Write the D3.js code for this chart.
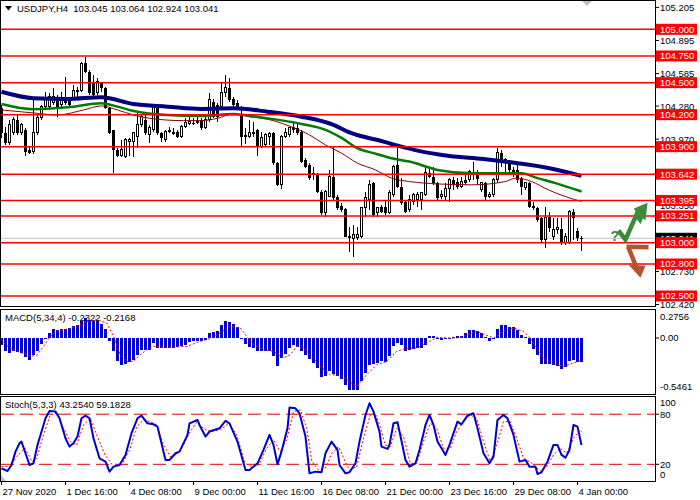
<!DOCTYPE html>
<html>
<head>
<meta charset="utf-8">
<script src="https://cdn.jsdelivr.net/npm/d3@7"></script>
<style>
  body { margin: 0; background: #fff; }
  svg { display: block; font-family: "Liberation Sans", Arial, sans-serif; }
</style>
</head>
<body>
<div id="chart"></div>
<script>
// USDJPY H4, 27 Nov 2020 00:00 .. 4 Jan 2021 04:00 (146 bars)

const openP = [104.263,104.029,103.935,104.029,104.150,104.029,104.057,103.870,103.851,104.029,
  104.169,104.272,104.272,104.310,104.366,104.291,104.338,104.338,104.356,104.413,
  104.431,104.684,104.600,104.506,104.403,104.497,104.450,104.263,104.057,103.870,
  103.813,103.804,103.944,103.944,103.991,104.103,104.150,104.010,104.057,104.272,
  104.029,103.963,104.057,104.038,104.038,103.991,104.085,104.113,104.122,104.122,
  104.150,104.075,104.150,104.319,104.291,104.272,104.403,104.450,104.347,104.310,
  104.197,104.010,103.991,104.038,104.057,103.898,103.916,103.991,104.029,103.748,
  103.542,103.991,104.010,104.085,104.075,104.038,103.776,103.729,103.654,103.636,
  103.476,103.280,103.429,103.617,103.429,103.345,103.317,103.064,103.036,103.046,
  103.055,103.327,103.401,103.560,103.280,103.336,103.336,103.280,103.448,103.729,
  103.523,103.383,103.308,103.383,103.401,103.401,103.448,103.654,103.617,103.560,
  103.429,103.429,103.504,103.589,103.570,103.523,103.589,103.589,103.664,103.654,
  103.495,103.560,103.429,103.448,103.589,103.842,103.748,103.748,103.682,103.682,
  103.607,103.514,103.560,103.345,103.327,103.233,103.027,103.242,103.055,103.120,
  103.130,103.000,103.000,103.289,103.111,103.045];
const highP = [104.291,104.085,104.150,104.178,104.197,104.122,104.075,103.898,104.366,104.197,
  104.291,104.413,104.403,104.450,104.385,104.413,104.553,104.366,104.478,104.459,
  104.693,104.740,104.619,104.572,104.544,104.506,104.459,104.272,104.057,103.888,
  103.963,103.982,103.982,104.038,104.225,104.197,104.197,104.103,104.291,104.291,
  104.038,104.057,104.085,104.075,104.057,104.103,104.169,104.178,104.169,104.178,
  104.169,104.178,104.403,104.347,104.310,104.497,104.572,104.544,104.366,104.338,
  104.282,104.075,104.150,104.132,104.066,104.038,104.029,104.038,104.038,103.757,
  104.010,104.075,104.085,104.122,104.122,104.057,103.795,103.748,103.710,103.654,
  103.495,103.495,103.682,103.898,103.448,103.373,103.327,103.149,103.167,103.149,
  103.336,103.476,103.589,103.570,103.336,103.355,103.401,103.495,103.729,103.888,
  103.607,103.401,103.448,103.467,103.476,103.476,103.710,103.710,103.710,103.570,
  103.495,103.560,103.607,103.617,103.607,103.617,103.654,103.682,103.757,103.682,
  103.570,103.570,103.476,103.607,103.888,103.870,103.795,103.776,103.710,103.748,
  103.617,103.570,103.570,103.383,103.336,103.242,103.336,103.289,103.233,103.233,
  103.233,103.092,103.308,103.317,103.139,103.064];
const lowP = [103.982,103.916,103.916,104.010,104.010,104.010,103.813,103.832,103.832,104.010,
  104.150,104.263,104.263,104.291,104.178,104.272,104.291,104.282,104.338,104.356,
  104.413,104.591,104.385,104.375,104.385,104.413,104.253,104.019,103.654,103.804,
  103.804,103.795,103.813,103.804,103.888,104.085,104.010,103.935,104.038,104.010,
  103.944,103.944,104.029,104.010,103.982,103.982,104.075,104.103,104.103,104.113,
  104.057,104.066,104.132,104.169,104.132,104.263,104.366,104.319,104.272,104.244,
  103.898,103.926,103.982,103.991,103.813,103.888,103.907,103.916,103.729,103.532,
  103.504,103.982,103.991,104.029,104.010,103.748,103.701,103.589,103.589,103.467,
  103.261,103.242,103.429,103.401,103.308,103.289,103.055,102.915,102.868,103.027,
  103.046,103.242,103.308,103.242,103.242,103.280,103.261,103.270,103.429,103.514,
  103.355,103.280,103.289,103.355,103.336,103.308,103.439,103.607,103.542,103.401,
  103.411,103.401,103.383,103.495,103.504,103.514,103.542,103.570,103.589,103.542,
  103.476,103.401,103.420,103.429,103.570,103.710,103.654,103.654,103.617,103.560,
  103.448,103.495,103.327,103.308,103.195,103.008,102.952,103.102,103.027,103.083,
  102.980,102.980,102.990,103.027,103.018,102.924];
const closeP = [104.029,103.935,104.103,104.150,104.029,104.103,103.851,103.842,104.029,104.169,
  104.272,104.338,104.366,104.366,104.263,104.338,104.310,104.291,104.431,104.431,
  104.684,104.600,104.403,104.385,104.506,104.450,104.263,104.029,103.870,103.813,
  103.870,103.963,103.963,104.029,104.103,104.178,104.029,104.075,104.272,104.029,
  103.982,104.038,104.038,104.019,103.991,104.085,104.122,104.132,104.113,104.132,
  104.075,104.150,104.338,104.178,104.178,104.403,104.450,104.338,104.291,104.272,
  103.991,103.991,104.029,104.019,103.898,103.982,104.010,104.019,103.748,103.542,
  103.991,104.029,104.075,104.057,104.029,103.757,103.710,103.607,103.636,103.476,
  103.280,103.476,103.617,103.420,103.327,103.308,103.055,103.046,103.074,103.074,
  103.327,103.420,103.542,103.261,103.327,103.289,103.280,103.467,103.710,103.523,
  103.373,103.289,103.401,103.448,103.448,103.467,103.654,103.617,103.560,103.420,
  103.448,103.504,103.589,103.542,103.523,103.570,103.560,103.664,103.636,103.598,
  103.560,103.429,103.448,103.589,103.842,103.776,103.776,103.682,103.664,103.589,
  103.523,103.560,103.336,103.327,103.214,103.027,103.233,103.139,103.120,103.139,
  103.000,103.055,103.289,103.233,103.046,103.041];
const lastPrice = 103.041;

// moving averages, [bar index] and price
const maSlowIdx = [0,8,16.5,25,33,41.5,50,58,66.5,75,83,87,95.5,100,104,112,120.5,129,137,145];
const maSlowVal = [104.415,104.354,104.347,104.363,104.300,104.275,104.253,104.260,104.228,104.181,
  104.104,104.033,103.947,103.900,103.863,103.813,103.785,103.745,103.698,103.626];
const maMidIdx = [0,8,16.5,25,29,33,41.5,50,58,62,66.5,75,81,85,89,93,97.5,102,109,117.5,126,130,134,138.5,145];
const maMidVal = [104.300,104.251,104.269,104.307,104.275,104.235,104.197,104.188,104.207,104.188,
  104.166,104.113,104.057,103.982,103.885,103.839,103.792,103.760,103.682,103.651,
  103.651,103.651,103.605,103.558,103.479];
const maFastIdx = [0,8,14,20.5,25,29,33,37,45.5,50,54,58,62,66.5,72.7,77,81,85,89,93.5,97.5,102,109,117.5,126,128.5,132.5,136.7,141,145];
const maFastVal = [104.244,104.216,104.197,104.244,104.282,104.244,104.197,104.166,104.144,104.144,
  104.166,104.207,104.181,104.157,104.082,104.010,103.916,103.839,103.745,103.682,
  103.605,103.573,103.551,103.542,103.573,103.605,103.573,103.495,103.432,103.386];

// horizontal levels and axis ticks
const levels = [105.000,104.750,104.500,104.200,103.900,103.642,103.395,103.251,103.000,102.800,102.500];
const priceTicks = [105.205,104.895,104.585,104.280,103.970,103.660,103.350,102.730,102.420];
const timeTickIdx = [0,16,32,48,64,80,96,112,128,144];
const timeTickLabels = ["27 Nov 2020","1 Dec 16:00","4 Dec 08:00","9 Dec 00:00","11 Dec 16:00",
  "16 Dec 08:00","21 Dec 00:00","23 Dec 16:00","29 Dec 08:00","4 Jan 00:00"];

// MACD(5,34,4)
const macdHist = [-0.071,-0.129,-0.145,-0.123,-0.139,-0.145,-0.187,-0.216,-0.161,-0.123,
  -0.058,-0.010,0.048,0.090,0.081,0.087,0.090,0.097,0.113,0.129,
  0.161,0.193,0.177,0.161,0.168,0.135,0.090,-0.026,-0.129,-0.219,
  -0.264,-0.248,-0.232,-0.210,-0.161,-0.113,-0.113,-0.119,-0.048,-0.097,
  -0.097,-0.097,-0.097,-0.097,-0.090,-0.081,-0.064,-0.042,-0.032,-0.026,
  -0.026,-0.016,0.048,0.055,0.071,0.123,0.161,0.155,0.135,0.103,
  -0.006,-0.055,-0.084,-0.097,-0.129,-0.129,-0.129,-0.129,-0.177,-0.274,
  -0.193,-0.152,-0.097,-0.071,-0.090,-0.129,-0.168,-0.200,-0.242,-0.290,
  -0.380,-0.371,-0.322,-0.348,-0.371,-0.393,-0.458,-0.500,-0.500,-0.500,
  -0.419,-0.339,-0.258,-0.251,-0.242,-0.226,-0.232,-0.177,-0.081,-0.048,
  -0.064,-0.129,-0.113,-0.103,-0.097,-0.097,-0.064,0.023,0.016,-0.010,
  -0.023,-0.010,-0.006,0.013,0.023,0.023,0.048,0.074,0.081,0.071,
  0.048,0.006,-0.032,-0.010,0.090,0.123,0.129,0.106,0.106,0.081,
  0.032,0.006,-0.058,-0.106,-0.168,-0.248,-0.248,-0.248,-0.264,-0.274,
  -0.300,-0.284,-0.226,-0.210,-0.235,-0.232];
const macdSigIdx = [0.5,2.2,4.7,7.2,8.8,10.5,12.2,13.8,16.3,18.8,21.3,23.8,26.3,28,29.7,31.3,33,34.7,36.3,38,
  41.3,46.3,49.7,52.2,54.7,57.2,59.7,61.3,63,65.5,68,70.5,72.2,73.8,75.5,77.2,79.7,82.2,84.7,87.2,
  88.8,91.3,93.8,96.3,98.8,101.3,103.8,106.3,108.8,111.3,113.8,116.3,118.8,121.3,123,125.5,128,130.5,
  132.2,133.8,135.5,138,140.5,143,145];
const macdSigVal = [-0.048,-0.097,-0.139,-0.177,-0.168,-0.081,0.016,0.064,0.081,0.113,0.155,0.177,0.145,0.016,-0.161,-0.226,-0.226,-0.161,-0.113,-0.081,
  -0.090,-0.081,-0.032,-0.006,0.048,0.113,0.097,0.016,-0.064,-0.113,-0.129,-0.193,-0.161,-0.081,-0.097,-0.161,-0.274,-0.355,-0.361,-0.426,
  -0.467,-0.355,-0.258,-0.226,-0.129,-0.097,-0.097,-0.048,0.006,0,0,0.026,0.064,0.026,0,0.064,0.097,0.064,
  0,-0.097,-0.193,-0.251,-0.274,-0.242,-0.217];
const macdMax = 0.2756, macdMin = -0.5461;

// Stochastic(5,3,3)
const stochMainIdx = [0,1.5,2.5,3.5,4.5,5,6,7,8,9,11,12,13.5,14.5,16,17,18,19,20,21,22,23,24.5,26,27,28,29.5,31,32.5,34,
  35,36.5,38,39,39.5,41,42,43.5,44.5,46.5,47,49,49.5,51,52,54.5,56,57,59,61,62,64,65.5,67,68,69,70,71.5,72,73.5,
  74.5,76,77,78.5,80,81,82.5,84,84.5,86,87,88.5,89.5,91,92,93,94.5,95,96.5,97,98,99,99.5,101,102,103.5,104.5,106,
  107,108,109,111,112,114,115,116.5,118,119,120.5,122,123,124,125.5,126.5,128,129.5,131,132,133.5,134,135,136.5,
  138,139,140,141,142,143,144,145];
const stochMainVal = [15.2,12.0,19.2,35.2,45.2,47.2,33.2,19.2,21.2,43.2,75.1,83.9,83.1,75.1,51.2,41.2,45.2,53.2,75.1,78.3,
  75.1,51.2,27.2,23.2,11.2,17.2,19.2,31.2,57.2,75.1,78.3,69.1,67.9,65.1,55.2,25.2,25.2,33.2,35.2,55.2,
  69.1,73.1,67.1,53.2,59.2,63.1,71.9,69.1,47.2,13.2,13.2,21.2,37.2,55.2,43.2,20.0,35.2,63.1,87.9,87.1,
  81.1,53.2,9.2,11.2,10.4,33.2,47.2,37.2,19.2,9.2,10.4,21.2,47.2,79.1,93.1,83.1,59.2,41.2,38.4,43.2,
  69.1,70.3,59.2,25.2,17.2,21.2,37.2,67.1,79.1,67.1,47.2,31.2,43.2,71.1,67.9,78.3,81.1,63.1,33.2,21.2,
  29.2,73.1,79.1,75.1,55.2,23.2,25.2,17.2,17.2,8.4,10.4,23.2,43.2,43.2,31.2,28.0,37.2,67.1,65.1,43.2];
const stochSigIdx = [0,2.2,3.8,5.9,7.6,8.8,10.5,12.2,13.8,15.5,17.2,18.8,20.5,22.2,23.8,25.9,28,30.1,32.2,33.8,
  35.5,37.2,38.8,40.5,42.2,43.8,45.5,47.2,48.8,50.5,52.2,54.7,56.8,58.8,60.9,62.6,64.3,66.3,68,69.7,
  71.3,73,74.7,76.3,77.6,79.3,80.9,82.6,84.3,85.9,87,88.8,90.5,92.2,93.4,94.7,95.9,97.2,98.8,100.5,
  102.2,103.8,105.5,107.2,108.8,110.5,112.2,113.8,115.5,117.2,118.8,120.5,122.2,123.8,125.5,127.2,128.8,130.5,132.6,134.7,
  136.3,138,139.7,141.3,143,144.7,145];
const stochSigVal = [17.2,17.2,29.2,39.2,23.2,27.2,55.2,79.1,81.1,63.1,47.2,43.2,67.1,75.1,55.2,31.2,17.2,19.2,39.2,65.1,
  73.1,71.1,67.1,43.2,29.2,31.2,43.2,59.2,70.3,63.1,59.2,61.2,69.1,55.2,21.2,17.2,19.2,39.2,49.2,35.2,
  49.2,83.1,85.1,63.1,23.2,13.2,15.2,33.2,41.2,23.2,13.2,17.2,51.2,79.1,81.1,65.1,43.2,41.2,63.1,53.2,
  21.2,21.2,47.2,69.1,63.1,39.2,39.2,59.2,71.1,79.1,75.1,47.2,23.2,43.2,71.1,71.1,51.2,27.2,21.2,12.0,
  17.2,31.2,39.2,33.2,51.2,61.2,59.2];
const stochLevels = [20, 80];
const stochAxisTicks = [100, 80, 20, 0];

const width = 700;
const height = 500;
const plotRight = 655;

const svg = d3.select("#chart")
  .append("svg")
    .attr("width", width)
    .attr("height", height);

const x = d3.scaleLinear()
  .domain([0, closeP.length - 1])
  .range([1.5, 1.5 + 4 * (closeP.length - 1)]);

const y = d3.scaleLinear()
  .domain([102.5, 105.0])
  .range([296, 29.3]);

const yMacd = d3.scaleLinear()
  .domain([macdMin, macdMax])
  .range([394.5, 309.5]);

const yStoch = d3.scaleLinear()
  .domain([0, 100])
  .range([481, 397.5]);

svg.append("defs").append("clipPath").attr("id", "mainClip")
  .append("rect").attr("x", 1).attr("y", 1).attr("width", plotRight - 1).attr("height", 305);

// ---- main price panel
const main = svg.append("g").attr("clip-path", "url(#mainClip)");

main.append("line")
  .attr("x1", 0).attr("x2", plotRight)
  .attr("y1", y(lastPrice)).attr("y2", y(lastPrice))
  .attr("stroke", "#c0c0c0").attr("stroke-width", 1);

const idx = d3.range(closeP.length);

const candles = main.append("g").attr("shape-rendering", "crispEdges");
candles.selectAll("line.wick")
  .data(idx)
  .join("line")
    .attr("class", "wick")
    .attr("x1", i => x(i)).attr("x2", i => x(i))
    .attr("y1", i => y(highP[i])).attr("y2", i => y(lowP[i]))
    .attr("stroke", "#000");

candles.selectAll("rect.body")
  .data(idx)
  .join("rect")
    .attr("class", "body")
    .attr("x", i => closeP[i] > openP[i] ? x(i) - 1 : x(i) - 1.5)
    .attr("width", i => closeP[i] > openP[i] ? 2 : 3)
    .attr("y", i => y(Math.max(openP[i], closeP[i])))
    .attr("height", i => Math.max(1, Math.abs(y(openP[i]) - y(closeP[i]))))
    .attr("fill", i => closeP[i] > openP[i] ? "#fff" : "#000")
    .attr("stroke", i => closeP[i] > openP[i] ? "#000" : "none");

const maLine = d3.line()
  .x(d => x(d[0]))
  .y(d => y(d[1]))
  .curve(d3.curveMonotoneX);

main.append("path")
  .datum(d3.zip(maFastIdx, maFastVal))
  .attr("d", maLine)
  .attr("fill", "none").attr("stroke", "#8b0000").attr("stroke-width", 1);
main.append("path")
  .datum(d3.zip(maMidIdx, maMidVal))
  .attr("d", maLine)
  .attr("fill", "none").attr("stroke", "#007a00").attr("stroke-width", 2.5);
main.append("path")
  .datum(d3.zip(maSlowIdx, maSlowVal))
  .attr("d", maLine)
  .attr("fill", "none").attr("stroke", "#000080").attr("stroke-width", 4);

main.selectAll("line.level")
  .data(levels)
  .join("line")
    .attr("class", "level")
    .attr("x1", 0).attr("x2", plotRight)
    .attr("y1", d => y(d)).attr("y2", d => y(d))
    .attr("stroke", "#ff0000").attr("stroke-width", 1.5);

// forecast arrows, placed past the last bar at the 103.000 level
const ax = x(closeP.length - 1), ay = y(103.0);
const arrows = svg.append("g").attr("transform", `translate(${ax},${ay})`);
const green = "#3a8a3c", brown = "#b4532c";
arrows.append("text")
  .attr("x", 29).attr("y", -2)
  .attr("font-size", 14).attr("font-weight", "bold")
  .attr("fill", green).text("?");
arrows.append("polyline")
  .attr("points", "37,-12 44,-3 55,-28 58.5,-23 63,-34")
  .attr("fill", "none").attr("stroke", green).attr("stroke-width", 4.5)
  .attr("stroke-linejoin", "miter");
arrows.append("polygon")
  .attr("points", "66,-40 52,-34 64,-22")
  .attr("fill", green);
arrows.append("line")
  .attr("x1", 45).attr("y1", 4).attr("x2", 67).attr("y2", 4.5)
  .attr("stroke", brown).attr("stroke-width", 4.5);
arrows.append("line")
  .attr("x1", 47).attr("y1", 5).attr("x2", 55).attr("y2", 25)
  .attr("stroke", brown).attr("stroke-width", 4.5);
arrows.append("polygon")
  .attr("points", "59,35 47,22 64,23")
  .attr("fill", brown);

// chart shift marker
svg.append("polygon")
  .attr("points", "582,1 592,1 587,6")
  .attr("fill", "#c0c0c0");

// header
svg.append("polygon")
  .attr("points", "5,6 12,6 8.5,10.5")
  .attr("fill", "#000");
svg.append("text")
  .attr("x", 17).attr("y", 12)
  .attr("font-size", 9.5)
  .style("white-space", "pre")
  .text(`USDJPY,H4  ${openP[145].toFixed(3)} ${highP[145].toFixed(3)} ${lowP[145].toFixed(3)} ${closeP[145].toFixed(3)}`);

// price axis
const axisG = svg.append("g").attr("font-size", 9.5);
axisG.selectAll("line.ptick")
  .data(priceTicks)
  .join("line")
    .attr("class", "ptick")
    .attr("x1", plotRight).attr("x2", plotRight + 4)
    .attr("y1", d => y(d)).attr("y2", d => y(d))
    .attr("stroke", "#000");
axisG.selectAll("text.plabel")
  .data(priceTicks)
  .join("text")
    .attr("class", "plabel")
    .attr("x", 660).attr("y", d => y(d) + 3.4)
    .text(d => d.toFixed(3));

axisG.append("rect")
  .attr("x", 656).attr("y", y(lastPrice) - 5.5)
  .attr("width", 41).attr("height", 11).attr("fill", "#000");
axisG.append("text")
  .attr("x", 660).attr("y", y(lastPrice) + 3.4)
  .attr("fill", "#fff").text(lastPrice.toFixed(3));

axisG.selectAll("rect.lbox")
  .data(levels)
  .join("rect")
    .attr("class", "lbox")
    .attr("x", 656).attr("y", d => y(d) - 5.5)
    .attr("width", 41).attr("height", 11)
    .attr("fill", "#ff0000");
axisG.selectAll("text.ltext")
  .data(levels)
  .join("text")
    .attr("class", "ltext")
    .attr("x", 660).attr("y", d => y(d) + 3.4)
    .attr("fill", "#fff")
    .text(d => d.toFixed(3));

// ---- MACD panel
svg.append("text")
  .attr("x", 5).attr("y", 321).attr("font-size", 9.5)
  .text("MACD(5,34,4) -0.2322 -0.2168");

svg.append("g").attr("shape-rendering", "crispEdges")
  .selectAll("rect")
  .data(idx)
  .join("rect")
    .attr("x", i => x(i) - 1.5)
    .attr("width", 3)
    .attr("y", i => yMacd(Math.max(0, macdHist[i])))
    .attr("height", i => Math.abs(yMacd(macdHist[i]) - yMacd(0)))
    .attr("fill", "#0000cd");

svg.append("path")
  .datum(d3.zip(macdSigIdx, macdSigVal))
  .attr("d", d3.line().x(d => x(d[0])).y(d => yMacd(d[1])))
  .attr("fill", "none").attr("stroke", "#ff0000")
  .attr("stroke-width", 1).attr("stroke-dasharray", "2,2");

const macdLabels = [[macdMax, "0.2756", 317], [0, "0.00", yMacd(0)], [macdMin, "-0.5461", 387]];
svg.append("g").attr("font-size", 9.5)
  .selectAll("text")
  .data(macdLabels)
  .join("text")
    .attr("x", 660).attr("y", d => d[2] + 3.4)
    .text(d => d[1]);
svg.append("line")
  .attr("x1", plotRight).attr("x2", plotRight + 4)
  .attr("y1", yMacd(0)).attr("y2", yMacd(0)).attr("stroke", "#000");

// ---- Stochastic panel
svg.append("text")
  .attr("x", 5).attr("y", 408).attr("font-size", 9.5)
  .text("Stoch(5,3,3) 43.2540 59.1828");

svg.selectAll("line.slevel")
  .data(stochLevels)
  .join("line")
    .attr("class", "slevel")
    .attr("x1", 1).attr("x2", plotRight)
    .attr("y1", d => yStoch(d)).attr("y2", d => yStoch(d))
    .attr("stroke", "#dd0000").attr("stroke-dasharray", "13,6");

svg.append("path")
  .datum(d3.zip(stochSigIdx, stochSigVal))
  .attr("d", d3.line().x(d => x(d[0])).y(d => yStoch(d[1])))
  .attr("fill", "none").attr("stroke", "#ff0000")
  .attr("stroke-width", 1).attr("stroke-dasharray", "2,2");

svg.append("path")
  .datum(d3.zip(stochMainIdx, stochMainVal))
  .attr("d", d3.line().x(d => x(d[0])).y(d => yStoch(d[1])))
  .attr("fill", "none").attr("stroke", "#0000cd")
  .attr("stroke-width", 2).attr("stroke-linejoin", "round");

svg.append("polygon")
  .attr("points", "1,475 1,481 6,481")
  .attr("fill", "#c0c0c0");

const stochLabelY = d => d === 100 ? 403 : d === 0 ? 475 : yStoch(d);
svg.append("g").attr("font-size", 9.5)
  .selectAll("text")
  .data(stochAxisTicks)
  .join("text")
    .attr("x", 660).attr("y", d => stochLabelY(d) + 3.4)
    .text(d => d);
svg.selectAll("line.stick")
  .data(stochLevels)
  .join("line")
    .attr("class", "stick")
    .attr("x1", plotRight).attr("x2", plotRight + 4)
    .attr("y1", d => yStoch(d)).attr("y2", d => yStoch(d))
    .attr("stroke", "#000");

// ---- time axis
svg.selectAll("line.ttick")
  .data(timeTickIdx)
  .join("line")
    .attr("class", "ttick")
    .attr("x1", d => x(d)).attr("x2", d => x(d))
    .attr("y1", 481).attr("y2", 485)
    .attr("stroke", "#000");
svg.append("g").attr("font-size", 9.5)
  .selectAll("text")
  .data(timeTickIdx)
  .join("text")
    .attr("x", d => x(d) + 1).attr("y", 494.5)
    .text((d, i) => timeTickLabels[i]);

// ---- panel frames
const frames = [[0.5, 306], [309.5, 85], [396.5, 84.5]];
svg.append("g").attr("shape-rendering", "crispEdges")
  .selectAll("rect")
  .data(frames)
  .join("rect")
    .attr("x", 0.5).attr("y", d => d[0])
    .attr("width", plotRight).attr("height", d => d[1])
    .attr("fill", "none").attr("stroke", "#000");
</script>
</body>
</html>
